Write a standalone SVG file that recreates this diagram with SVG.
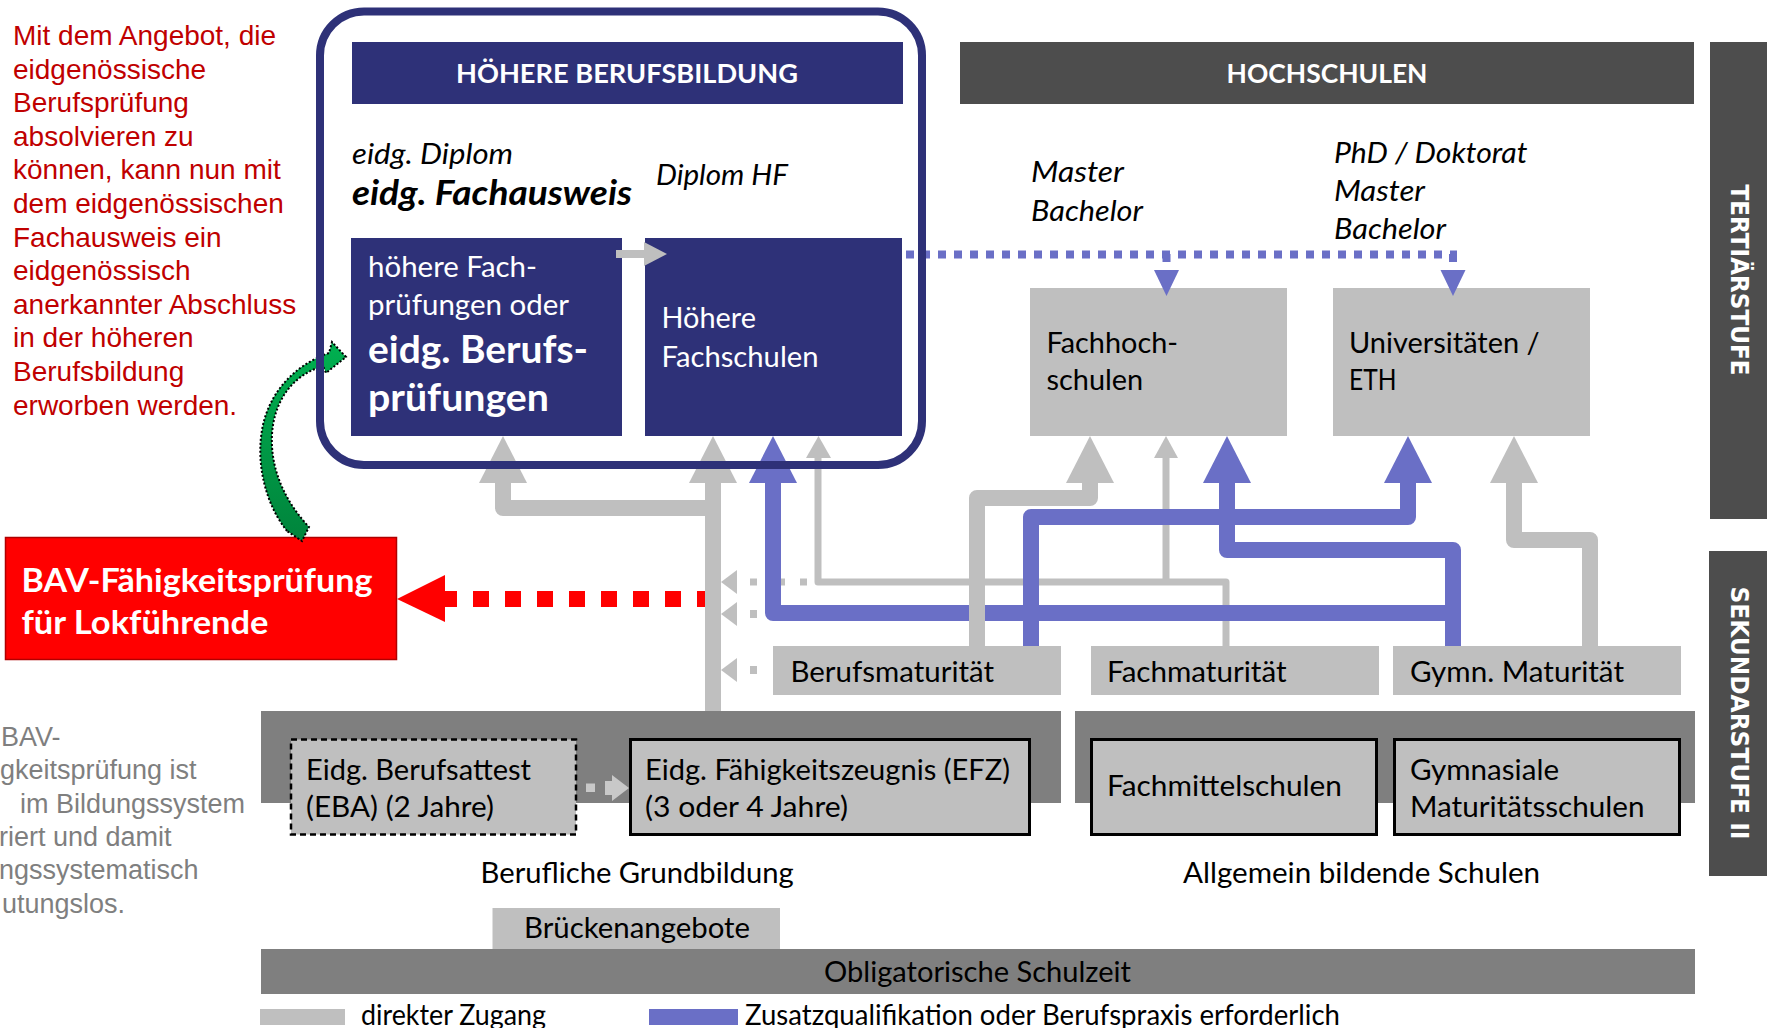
<svg xmlns="http://www.w3.org/2000/svg" width="1767" height="1028" viewBox="0 0 1767 1028">
<defs>
<linearGradient id="green" x1="0" y1="0" x2="0" y2="1">
<stop offset="0" stop-color="#00b050"/>
<stop offset="1" stop-color="#00843c"/>
</linearGradient>
<style>
.c{font-family:Lato,"Open Sans","DejaVu Sans",sans-serif;font-size:28px;fill:#000}
.s25{font-size:27px}
.s33{font-size:33px}
.s34{font-size:33.6px}
.s38{font-size:37.7px}
.w{fill:#fff}
.i{font-style:italic}
.b{font-weight:bold}
.ar{font-family:"Liberation Sans",Arial,sans-serif}
.red{fill:#c00000;font-size:28px}
.gy{fill:#7f7f7f;font-size:27px}
.navy{fill:#2e3178}
.lg{fill:#bfbfbf}
.mg{fill:#7f7f7f}
.dg{fill:#4d4d4d}
.box{fill:#bfbfbf;stroke:#000;stroke-width:3}
.gs{fill:none;stroke:#bfbfbf;stroke-width:16;stroke-linejoin:round}
.gt{fill:none;stroke:#bfbfbf;stroke-width:7;stroke-linejoin:round}
.bs{fill:none;stroke:#6a6fc6;stroke-width:16;stroke-linejoin:round}
.gh{fill:#bfbfbf}
.bh{fill:#6a6fc6}
.side{font-family:"DejaVu Sans",Verdana,sans-serif;font-weight:bold;font-size:25px;fill:#fff}
</style>
</defs>
<rect x="0" y="0" width="1767" height="1028" fill="#fff"/>

<g id="note-red">
<text class="ar red">
<tspan x="13" y="45">Mit dem Angebot, die</tspan>
<tspan x="13" y="78.6">eidgenössische</tspan>
<tspan x="13" y="112.2">Berufsprüfung</tspan>
<tspan x="13" y="145.8">absolvieren zu</tspan>
<tspan x="13" y="179.4">können, kann nun mit</tspan>
<tspan x="13" y="213">dem eidgenössischen</tspan>
<tspan x="13" y="246.6">Fachausweis ein</tspan>
<tspan x="13" y="280.2">eidgenössisch</tspan>
<tspan x="13" y="313.8">anerkannter Abschluss</tspan>
<tspan x="13" y="347.4">in der höheren</tspan>
<tspan x="13" y="381">Berufsbildung</tspan>
<tspan x="13" y="414.6">erworben werden.</tspan>
</text>
</g>

<g id="note-gray">
<text class="ar gy">
<tspan x="1" y="746">BAV-</tspan>
<tspan x="0" y="779.3">gkeitsprüfung ist</tspan>
<tspan x="20" y="812.6">im Bildungssystem</tspan>
<tspan x="-1" y="845.9">riert und damit</tspan>
<tspan x="-1" y="879.2">ngssystematisch</tspan>
<tspan x="2" y="912.5">utungslos.</tspan>
</text>
</g>

<g id="hoehere-berufsbildung-header">
<rect class="navy" x="352" y="42" width="551" height="62"/>
<text class="c s25 w b" x="627" y="83" text-anchor="middle" textLength="342" lengthAdjust="spacingAndGlyphs">HÖHERE BERUFSBILDUNG</text>
</g>

<g id="hbb-labels">
<text class="c i" x="352" y="164" textLength="161" lengthAdjust="spacingAndGlyphs">eidg. Diplom</text>
<text class="c s34 i b" x="352" y="205" textLength="280" lengthAdjust="spacingAndGlyphs">eidg. Fachausweis</text>
<text class="c i" x="656" y="185" textLength="132" lengthAdjust="spacingAndGlyphs">Diplom HF</text>
</g>

<g id="berufspruefungen">
<rect class="navy" x="351" y="238" width="271" height="198"/>
<text class="c w" x="368" y="277" textLength="169" lengthAdjust="spacingAndGlyphs">höhere Fach-</text>
<text class="c w" x="368" y="315" textLength="201" lengthAdjust="spacingAndGlyphs">prüfungen oder</text>
<text class="c s38 w b" x="368" y="363" textLength="220" lengthAdjust="spacingAndGlyphs">eidg. Berufs-</text>
<text class="c s38 w b" x="368" y="411" textLength="181" lengthAdjust="spacingAndGlyphs">prüfungen</text>
</g>

<g id="hoehere-fachschulen">
<rect class="navy" x="645" y="238" width="257" height="198"/>
<text class="c w" x="661.5" y="328" textLength="94.5" lengthAdjust="spacingAndGlyphs">Höhere</text>
<text class="c w" x="661.5" y="367" textLength="157" lengthAdjust="spacingAndGlyphs">Fachschulen</text>
</g>

<g id="hochschulen-header">
<rect class="dg" x="960" y="42" width="734" height="62"/>
<text class="c s25 w b" x="1327" y="83" text-anchor="middle" textLength="201" lengthAdjust="spacingAndGlyphs">HOCHSCHULEN</text>
</g>

<g id="hochschulen-labels">
<text class="c i" x="1031" y="182" textLength="93" lengthAdjust="spacingAndGlyphs">Master</text>
<text class="c i" x="1031" y="221" textLength="112" lengthAdjust="spacingAndGlyphs">Bachelor</text>
<text class="c i" x="1334" y="163" textLength="193.5" lengthAdjust="spacingAndGlyphs">PhD / Doktorat</text>
<text class="c i" x="1334" y="201" textLength="91" lengthAdjust="spacingAndGlyphs">Master</text>
<text class="c i" x="1334" y="239" textLength="112" lengthAdjust="spacingAndGlyphs">Bachelor</text>
</g>

<g id="fachhochschulen">
<rect class="lg" x="1030" y="288" width="257" height="148"/>
<text class="c" x="1046.5" y="353" textLength="131.5" lengthAdjust="spacingAndGlyphs">Fachhoch-</text>
<text class="c" x="1046.5" y="390" textLength="96.7" lengthAdjust="spacingAndGlyphs">schulen</text>
</g>

<g id="universitaeten">
<rect class="lg" x="1333" y="288" width="257" height="148"/>
<text class="c" x="1349" y="353" textLength="190.6" lengthAdjust="spacingAndGlyphs">Universitäten /</text>
<text class="c" x="1349" y="390" textLength="47.5" lengthAdjust="spacingAndGlyphs">ETH</text>
</g>

<g id="tertiaerstufe">
<rect class="dg" x="1710" y="42" width="57" height="477"/>
<text class="side" transform="translate(1731,280) rotate(90)" text-anchor="middle" textLength="191" lengthAdjust="spacingAndGlyphs">TERTIÄRSTUFE</text>
</g>

<g id="sekundarstufe">
<rect class="dg" x="1709" y="551" width="58" height="325"/>
<text class="side" transform="translate(1731,713) rotate(90)" text-anchor="middle" textLength="253" lengthAdjust="spacingAndGlyphs">SEKUNDARSTUFE II</text>
</g>

<g id="bav-pruefung">
<rect x="5.5" y="537.5" width="391" height="122" fill="#ff0000" stroke="#b00000" stroke-width="1.5"/>
<text class="c s33 w b" x="21.5" y="592" textLength="351" lengthAdjust="spacingAndGlyphs">BAV-Fähigkeitsprüfung</text>
<text class="c s33 w b" x="21.5" y="634" textLength="247" lengthAdjust="spacingAndGlyphs">für Lokführende</text>
</g>

<g id="berufsmaturitaet">
<rect class="lg" x="773" y="646" width="288" height="49"/>
<text class="c" x="790.5" y="682" textLength="203.5" lengthAdjust="spacingAndGlyphs">Berufsmaturität</text>
</g>
<g id="fachmaturitaet">
<rect class="lg" x="1091" y="646" width="288" height="49"/>
<text class="c" x="1107" y="682" textLength="179.6" lengthAdjust="spacingAndGlyphs">Fachmaturität</text>
</g>
<g id="gymn-maturitaet">
<rect class="lg" x="1393" y="646" width="288" height="49"/>
<text class="c" x="1410" y="682" textLength="214" lengthAdjust="spacingAndGlyphs">Gymn. Maturität</text>
</g>

<g id="berufliche-grundbildung">
<rect class="mg" x="261" y="711" width="800" height="92"/>
<text class="c" x="480.6" y="883" textLength="313" lengthAdjust="spacingAndGlyphs">Berufliche Grundbildung</text>
</g>
<g id="allgemein-bildende-schulen">
<rect class="mg" x="1075" y="711" width="620" height="92"/>
<text class="c" x="1183" y="883" textLength="357" lengthAdjust="spacingAndGlyphs">Allgemein bildende Schulen</text>
</g>

<g id="eba">
<rect x="291" y="739.5" width="285" height="95" fill="#bfbfbf" stroke="#000" stroke-width="2.5" stroke-dasharray="6 4"/>
<text class="c" x="306" y="780" textLength="225" lengthAdjust="spacingAndGlyphs">Eidg. Berufsattest</text>
<text class="c" x="306" y="817" textLength="188" lengthAdjust="spacingAndGlyphs">(EBA) (2 Jahre)</text>
</g>
<g id="efz">
<rect class="box" x="630.5" y="739.5" width="399" height="95"/>
<text class="c" x="645" y="780" textLength="365" lengthAdjust="spacingAndGlyphs">Eidg. Fähigkeitszeugnis (EFZ)</text>
<text class="c" x="645" y="817" textLength="203" lengthAdjust="spacingAndGlyphs">(3 oder 4 Jahre)</text>
</g>
<g id="fachmittelschulen">
<rect class="box" x="1091.5" y="739.5" width="285" height="95"/>
<text class="c" x="1107" y="796" textLength="235" lengthAdjust="spacingAndGlyphs">Fachmittelschulen</text>
</g>
<g id="gymnasiale-maturitaetsschulen">
<rect class="box" x="1394.5" y="739.5" width="285" height="95"/>
<text class="c" x="1410" y="780" textLength="149" lengthAdjust="spacingAndGlyphs">Gymnasiale</text>
<text class="c" x="1410" y="817" textLength="234.5" lengthAdjust="spacingAndGlyphs">Maturitätsschulen</text>
</g>

<g id="brueckenangebote">
<rect class="lg" x="492.5" y="908" width="287.5" height="41"/>
<text class="c" x="524" y="938" textLength="226" lengthAdjust="spacingAndGlyphs">Brückenangebote</text>
</g>
<g id="obligatorische-schulzeit">
<rect class="mg" x="261" y="949" width="1434" height="45"/>
<text class="c" x="824" y="982" textLength="307" lengthAdjust="spacingAndGlyphs">Obligatorische Schulzeit</text>
</g>

<g id="legend">
<rect class="lg" x="260" y="1009" width="85" height="16"/>
<text class="c" x="361" y="1025" textLength="185" lengthAdjust="spacingAndGlyphs">direkter Zugang</text>
<rect class="bh" x="649" y="1009" width="89" height="16"/>
<text class="c" x="745" y="1025" textLength="595" lengthAdjust="spacingAndGlyphs">Zusatzqualifikation oder Berufspraxis erforderlich</text>
</g>

<g id="connectors">
<rect class="gh" x="616" y="250" width="29" height="8"/>
<polygon class="gh" points="644,242 667,254 644,266"/>
<path d="M906,254.5 H1457" fill="none" stroke="#6a6fc6" stroke-width="8" stroke-dasharray="8 8"/>
<path d="M1166.5,254 V262 M1453,254 V262" fill="none" stroke="#6a6fc6" stroke-width="8"/>
<polygon class="bh" points="1154,270 1179,270 1166.5,296"/>
<polygon class="bh" points="1440.5,270 1465.5,270 1453,296"/>
<path d="M441,599 H713" fill="none" stroke="#ff0000" stroke-width="16" stroke-dasharray="16 16"/>
<polygon points="397,599 445,575 445,622" fill="#ff0000"/>
<path class="gt" d="M818,458 V582 H1226 V646 M1166,582 V458"/>
<polygon class="gh" points="806,458 818.5,436 831,458"/>
<polygon class="gh" points="1154,458 1166,436 1178,458"/>
<rect class="gh" x="750" y="578.5" width="7" height="7"/>
<rect class="gh" x="778" y="578.5" width="7" height="7"/>
<rect class="gh" x="800" y="578.5" width="7" height="7"/>
<polygon class="gh" points="721,582 737,570 737,594"/>
<rect class="gh" x="750" y="610" width="7" height="8"/>
<polygon class="gh" points="721,614 737,602 737,626"/>
<rect class="gh" x="750" y="666" width="7" height="8"/>
<polygon class="gh" points="721,670 737,658 737,682"/>
<path class="bs" d="M1031,646 V517 H1408 V483"/>
<polygon class="bh" points="1384,483 1408,436 1432,483"/>
<path class="bs" d="M1453,646 V550 H1227 V483"/>
<polygon class="bh" points="1203,483 1227,436 1251,483"/>
<path class="bs" d="M1453,613 H773 V483"/>
<polygon class="bh" points="749,483 773,436 797,483"/>
<path class="gs" d="M713,711 V483"/>
<polygon class="gh" points="689,483 713,436 737,483"/>
<path class="gs" d="M713,508 H503 V483"/>
<polygon class="gh" points="479,483 503,436 527,483"/>
<path class="gs" d="M977,646 V498 H1090 V483"/>
<polygon class="gh" points="1066,483 1090,436 1114,483"/>
<path class="gs" d="M1590,646 V540 H1514 V483"/>
<polygon class="gh" points="1490,483 1514,436 1538,483"/>
<rect x="586" y="783.5" width="9" height="8.5" fill="#c8c8c8"/>
<polygon points="605,781 612,781 612,775 629,788 612,801 612,795 605,795" fill="#c8c8c8"/>
<path d="M287,531 C266,505 256,465 262,430 C268,395 292,366 329,353 L332,342 L346,357 L326,373 L323,366 C296,374 278,395 273,425 C268,458 279,495 309,527 L302,541 Z" fill="url(#green)" stroke="#000" stroke-width="2" stroke-dasharray="2 2"/>
</g>

<g id="hbb-frame">
<rect x="320" y="11.5" width="602" height="453.5" rx="44" ry="44" fill="none" stroke="#2e3178" stroke-width="8"/>
</g>
</svg>
